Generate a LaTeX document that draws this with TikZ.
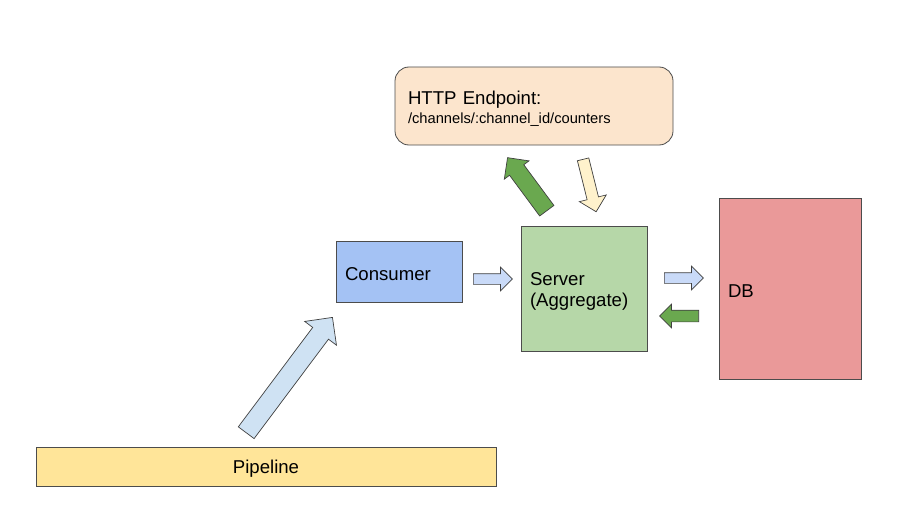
\documentclass[tikz,border=0pt]{standalone}
\usepackage{fontspec}
\setmainfont{Liberation Sans}
\usetikzlibrary{shapes.arrows}

\definecolor{peach}{HTML}{FCE5CD}
\definecolor{consumerblue}{HTML}{A4C2F4}
\definecolor{servergreen}{HTML}{B6D7A8}
\definecolor{dbred}{HTML}{EA9999}
\definecolor{pipeyellow}{HTML}{FFE599}
\definecolor{lightblue}{HTML}{C9DAF8}
\definecolor{paleblue}{HTML}{CFE2F3}
\definecolor{darkgreen}{HTML}{6AA84F}
\definecolor{paleyellow}{HTML}{FFF2CC}

\tikzset{
  box/.style={draw=black!70, line width=0.8pt, align=left, inner xsep=9pt,
    text height=18.5pt, font=\fontsize{18.6}{21.5}\selectfont},
  blockarrow/.style={single arrow, draw=black!75, line width=0.7pt,
    inner xsep=0pt, anchor=tail}
}

\begin{document}
\begin{tikzpicture}[x=1pt,y=-1pt]
    \useasboundingbox (0,0) rectangle (914,527);

    %boxes
    \node[box, fill=peach, rounded corners=14pt, minimum width=278, minimum height=78,
      text width=252, inner xsep=13pt] (endpoint) at (534,106)
      {HTTP Endpoint:\\[-3pt]{\fontsize{14.7}{17}\selectfont /channels/:channel\_id/counters}};
    \node[box, fill=consumerblue, minimum width=126, minimum height=61, text width=108] (consumer) at (399,271.5) {Consumer};
    \node[box, fill=servergreen, minimum width=126, minimum height=125, text width=108] (server) at (584,288.5) {Server\\(Aggregate)};
    \node[box, fill=dbred, minimum width=142, minimum height=181, text width=124] (db) at (790,288.5) {DB};
    \node[box, fill=pipeyellow, minimum width=460, minimum height=39, align=center] (pipeline) at (266,466.5) {Pipeline};

    %block arrows
    \node[blockarrow, fill=lightblue, minimum height=39, inner ysep=5pt, single arrow head extend=6.5pt] (consumer-server) at (473,279) {};
    \node[blockarrow, fill=lightblue, minimum height=39, inner ysep=5pt, single arrow head extend=6.5pt] (server-db) at (664,278) {};
    \node[blockarrow, fill=darkgreen, minimum height=39, inner ysep=5.5pt, single arrow head extend=6pt, rotate=180] (db-server) at (699,316) {};
    \node[blockarrow, fill=darkgreen, minimum height=66, inner ysep=8.5pt, single arrow head extend=6.5pt, rotate=126.5] (server-endpoint) at (547,211) {};
    \node[blockarrow, fill=paleyellow, minimum height=54, inner ysep=5.5pt, single arrow head extend=8pt, rotate=-76] (endpoint-server) at (583,159) {};
    \node[blockarrow, fill=paleblue, minimum height=144, inner ysep=9.5pt, single arrow head extend=10pt, rotate=53.2] (pipeline-consumer) at (246,433) {};
\end{tikzpicture}
\end{document}
